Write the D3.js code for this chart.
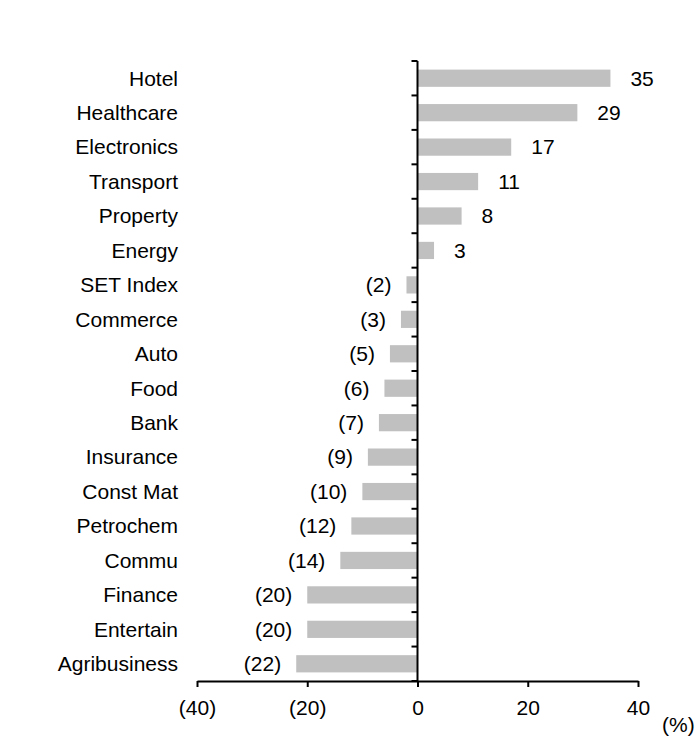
<html>
<head>
    <script src="https://d3js.org/d3.v7.min.js"></script>
    <style>
        body { margin: 0; background: #fff; }
        text { font-family: Arial, "Liberation Sans", sans-serif; font-size: 21px; fill: #000; }
    </style>
</head>
<body>
    <div id="chart"></div>
    <script>
        // sector returns (%)
        var sectors = ["Hotel", "Healthcare", "Electronics", "Transport", "Property", "Energy",
            "SET Index", "Commerce", "Auto", "Food", "Bank", "Insurance", "Const Mat",
            "Petrochem", "Commu", "Finance", "Entertain", "Agribusiness"];
        var returns = [35, 29, 17, 11, 8, 3, -2, -3, -5, -6, -7, -9, -10, -12, -14, -20, -20, -22];
        var xTicks = [-40, -20, 0, 20, 40];

        var data = sectors.map(function (s, i) { return { name: s, value: returns[i] }; });

        var svg = d3.select("#chart").append("svg")
            .attr("width", 699)
            .attr("height", 736);

        var x = d3.scaleLinear().domain([-40, 40]).range([197, 638]);
        var y = d3.scaleBand().domain(sectors).range([61, 681])
            .paddingInner(0.5).paddingOuter(0.25);

        var fmt = function (v) { return v < 0 ? "(" + Math.abs(v) + ")" : String(v); };

        // bars
        svg.selectAll("rect.bar")
            .data(data)
            .enter().append("rect")
            .attr("class", "bar")
            .attr("x", function (d) { return x(Math.min(0, d.value)); })
            .attr("y", function (d) { return y(d.name); })
            .attr("width", function (d) { return Math.abs(x(d.value) - x(0)); })
            .attr("height", y.bandwidth())
            .attr("fill", "#c0c0c0");

        // value labels
        svg.selectAll("text.val")
            .data(data)
            .enter().append("text")
            .attr("class", "val")
            .attr("x", function (d) { return d.value >= 0 ? x(d.value) + 20 : x(d.value) - 15; })
            .attr("y", function (d) { return y(d.name) + y.bandwidth() / 2; })
            .attr("dy", "0.35em")
            .attr("text-anchor", function (d) { return d.value >= 0 ? "start" : "end"; })
            .text(function (d) { return fmt(d.value); });

        // category labels
        svg.selectAll("text.cat")
            .data(sectors)
            .enter().append("text")
            .attr("class", "cat")
            .attr("x", 178)
            .attr("y", function (d) { return y(d) + y.bandwidth() / 2; })
            .attr("dy", "0.35em")
            .attr("text-anchor", "end")
            .text(function (d) { return d; });

        // vertical axis at zero with ticks between categories
        var bounds = sectors.map(function (s) { return y(s) - y.step() * 0.25; });
        bounds.push(681);
        svg.append("line")
            .attr("x1", x(0)).attr("x2", x(0))
            .attr("y1", 61).attr("y2", 681)
            .attr("stroke", "#000").attr("stroke-width", 2);
        svg.selectAll("line.ytick")
            .data(bounds)
            .enter().append("line")
            .attr("class", "ytick")
            .attr("x1", x(0) - 6).attr("x2", x(0))
            .attr("y1", function (d) { return d; })
            .attr("y2", function (d) { return d; })
            .attr("stroke", "#000").attr("stroke-width", 2);

        // bottom axis
        var xAxis = d3.axisBottom(x).tickValues(xTicks).tickSize(6).tickSizeOuter(0)
            .tickFormat(fmt).tickPadding(13);
        var gx = svg.append("g").attr("transform", "translate(0,681)").call(xAxis);
        gx.select(".domain").attr("stroke", "#000").attr("stroke-width", 2);
        gx.selectAll(".tick line").attr("stroke", "#000").attr("stroke-width", 2);
        gx.selectAll(".tick text")
            .style("font-family", "Arial, 'Liberation Sans', sans-serif")
            .style("font-size", "21px")
            .attr("fill", "#000");

        svg.append("text")
            .attr("x", 662)
            .attr("y", 732)
            .text("(%)");
    </script>
</body>
</html>
